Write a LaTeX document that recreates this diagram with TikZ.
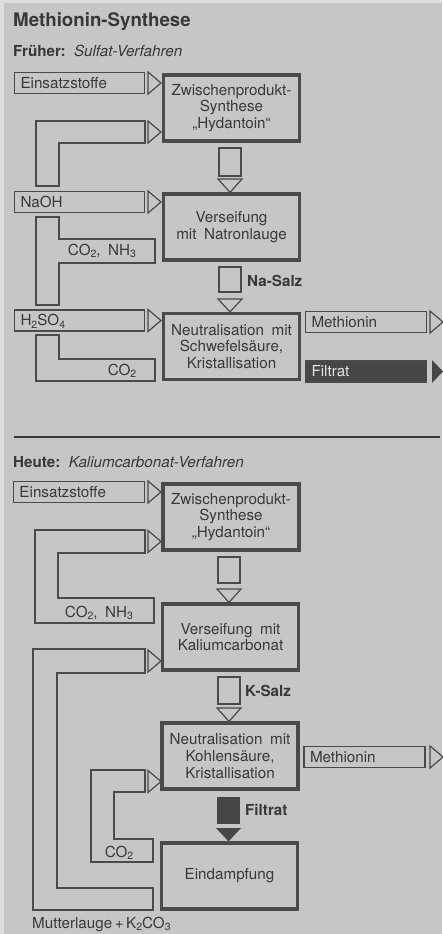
\documentclass[tikz,border=0pt]{standalone}
\usepackage{fontspec}
\setmainfont{TeX Gyre Heros}
\usetikzlibrary{calc}

\definecolor{paper}{HTML}{C6C6C6}
\definecolor{paperedge}{HTML}{DEDEDE}
\definecolor{ink}{HTML}{4A4A4A}
\definecolor{txt}{HTML}{383838}
\definecolor{dark}{HTML}{464646}
\definecolor{lighttxt}{HTML}{E4E4E4}

% lowered small digits for chemical formulas
\newcommand\chsub[1]{\raisebox{-0.35ex}{\fontsize{10.5}{10.5}\selectfont #1}}

\tikzset{
  every node/.style={text=txt, font=\fontsize{15.2}{16.8}\selectfont},
  head/.style={anchor=base west, inner sep=0pt},
  lbl/.style={anchor=base, inner sep=0pt},
  proc/.style={draw=ink, line width=3.2pt, minimum width=136pt, minimum height=66pt,
    text width=132pt, align=center, inner sep=0pt},
  feed/.style={draw=ink, line width=1.2pt, text width=#1, minimum height=21pt,
    inner xsep=6pt, inner ysep=0pt, align=left, text height=10.8pt, text depth=0pt},
  pipe/.style={draw=ink, line width=1.2pt, line join=miter},
  rtri/.pic={\draw[ink, line width=1.2pt, line join=miter] (0,0) -- (0,22) -- (13,11) -- cycle;},
  rtrifill/.pic={\fill[dark] (0,0) -- (0,23) -- (11,11.5) -- cycle;},
  dtri/.pic={\draw[ink, line width=1.2pt, line join=miter] (0,0) -- (24,0) -- (12,12) -- cycle;}
}

\begin{document}
\begin{tikzpicture}[x=1pt, y=-1pt]
% sheet
\fill[paper] (0,0) rectangle (442,934);
\fill[paperedge] (0,0) rectangle (442,3);
\fill[paperedge] (0,0) rectangle (4,934);
\useasboundingbox (0,0) rectangle (442,934);

% headings
\node[head, font=\fontsize{18.7}{20}\selectfont\bfseries] (title) at (13,27) {Methionin-Synthese};
\node[head] (old) at (13,57) {\textbf{Früher:}\hspace{0.55em}\textit{Sulfat-Verfahren}};
\node[head] (new) at (13,467) {\textbf{Heute:}\hspace{0.55em}\textit{Kaliumcarbonat-Verfahren}};

% ---------- sulfate process ----------
\node[proc] (p1) at (231.5,108) {Zwischenprodukt-\\Synthese\\„Hydantoin“};
\node[proc] (p2) at (231.5,227) {Verseifung\\mit\enspace Natronlauge};
\node[proc] (p3) at (231.5,346.5) {Neutralisation\enspace mit\\Schwefelsäure,\\Kristallisation};

\node[feed=118pt] (e1) at (79.5,83) {Einsatzstoffe};
\node[feed=118pt] (naoh) at (79.5,202) {NaOH};
\node[feed=118pt] (h2so4) at (79.5,320.5) {H\chsub{2}SO\chsub{4}};
\node[feed=109pt] (meth1) at (366,322) {Methionin};
\node[feed=109pt, fill=dark, text=lighttxt] (filt1) at (366,371.5) {Filtrat};

\pic at (148,72) {rtri};
\pic at (148,121) {rtri};
\pic at (148,191) {rtri};
\pic at (148,309.5) {rtri};
\pic at (430,311) {rtri};
\pic at (432,360) {rtrifill};

% gas recycle: CO2 and NH3 back to the hydantoin stage
\draw[pipe] (36,186) -- (36,121) -- (145,121) -- (145,143) -- (59,143) -- (59,186) -- cycle;
\draw[pipe] (36,217) -- (59,217) -- (59,239) -- (155,239) -- (155,263) -- (59,263)
  -- (59,305) -- (36,305) -- cycle;
\draw[pipe] (36,335) -- (59,335) -- (59,359) -- (155,359) -- (155,381) -- (36,381) -- cycle;
\node[lbl] (gas1) at (102,255) {CO\chsub{2},\enspace NH\chsub{3}};
\node[lbl] (gas2) at (122,375) {CO\chsub{2}};

% product arrows
\draw[pipe] (219,148) rectangle (241,176);
\draw[pipe] (218,179) -- (242,179) -- (p2.north -| 230,0) -- cycle;
\draw[pipe] (219,267) rectangle (241,292);
\draw[pipe] (218,299) -- (242,299) -- (p3.north -| 230,0) -- cycle;
\node[anchor=base west, inner sep=0pt, font=\fontsize{15.2}{16.8}\selectfont\bfseries] (na) at (247,286) {Na-Salz};

% separator
\draw[txt, line width=1.4pt] (14,437) -- (440,437);

% ---------- potassium carbonate process ----------
\node[proc] (q1) at (231,517) {Zwischenprodukt-\\Synthese\\„Hydantoin“};
\node[proc] (q2) at (230.5,637) {Verseifung\enspace mit\\Kaliumcarbonat};
\node[proc] (q3) at (230,756) {Neutralisation\enspace mit\\Kohlensäure,\\Kristallisation};
\node[proc] (q4) at (229.5,876) {Eindampfung};

\node[feed=119pt] (e2) at (79,492) {Einsatzstoffe};
\node[feed=109pt] (meth2) at (364.5,757) {Methionin};

\pic at (148,481) {rtri};
\pic at (148,530.5) {rtri};
\pic at (148,650) {rtri};
\pic at (148,770.5) {rtri};
\pic at (430,746) {rtri};

% CO2 and NH3 back to the hydantoin stage
\draw[pipe] (35,623) -- (35,530) -- (145,530) -- (145,553) -- (58,553) -- (58,598)
  -- (154,598) -- (154,623) -- cycle;
% mother liquor with K2CO3 back to saponification
\draw[pipe] (33,910) -- (33,649) -- (145,649) -- (145,673) -- (57,673) -- (57,888)
  -- (153,888) -- (153,910) -- cycle;
% CO2 from evaporation back to neutralisation
\draw[pipe] (91,862) -- (91,770) -- (145,770) -- (145,792) -- (114,792) -- (114,839)
  -- (153,839) -- (153,862) -- cycle;
\node[lbl] (gas3) at (99,617) {CO\chsub{2},\enspace NH\chsub{3}};
\node[lbl] (gas4) at (119,857) {CO\chsub{2}};
\node[head] (ml) at (32,928) {Mutterlauge\,+\,K\chsub{2}CO\chsub{3}};

% product arrows
\draw[pipe] (218,557) rectangle (240,583);
\draw[pipe] (217,589) -- (241,589) -- (q2.north -| 229,0) -- cycle;
\draw[pipe] (218,677) rectangle (240,704);
\draw[pipe] (217,708) -- (241,708) -- (q3.north -| 229,0) -- cycle;
\node[anchor=base west, inner sep=0pt, font=\fontsize{15.2}{16.8}\selectfont\bfseries] (ks) at (245,696) {K-Salz};
\fill[dark] (217,797) rectangle (240,824);
\fill[dark] (216,828) -- (241,828) -- (q4.north -| 228.5,0) -- cycle;
\node[anchor=base west, inner sep=0pt, font=\fontsize{15.2}{16.8}\selectfont\bfseries] (fs) at (245,815) {Filtrat};
\end{tikzpicture}
\end{document}
